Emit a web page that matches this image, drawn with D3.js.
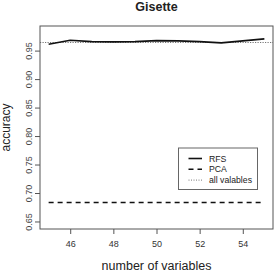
<!DOCTYPE html>
<html>
<head>
<meta charset="utf-8">
<script src="https://cdnjs.cloudflare.com/ajax/libs/d3/7.8.5/d3.min.js"></script>
<style>
  body { margin: 0; background: #fff; }
  svg { display: block; font-family: "Liberation Sans", Arial, sans-serif; }
</style>
</head>
<body>
<div id="chart"></div>
<script>
var numVars = [45, 46, 47, 48, 49, 50, 51, 52, 53, 54, 55];
var rfsAcc = [0.9611, 0.9682, 0.9656, 0.9655, 0.9656, 0.9676, 0.9672, 0.9656, 0.9636, 0.9671, 0.9706];
var pcaAcc = [0.6832, 0.6832, 0.6832, 0.6832, 0.6832, 0.6832, 0.6832, 0.6832, 0.6832, 0.6832, 0.6832];
var allVarsAcc = 0.9642;
var xTicks = [46, 48, 50, 52, 54];
var yTicks = [0.65, 0.70, 0.75, 0.80, 0.85, 0.90, 0.95];
var yLim = [0.65, 0.98];
var legendItems = [
  { label: "RFS", dash: null, width: 1.6, color: "#111" },
  { label: "PCA", dash: "5,4", width: 1.6, color: "#111" },
  { label: "all valables", dash: "1,1.5", width: 1, color: "#777" }
];

var width = 274, height = 272;
var box = { left: 40, right: 273, top: 26, bottom: 229 };

var svg = d3.select("#chart").append("svg")
  .attr("width", width)
  .attr("height", height);

// R style 4% padding on both axes
var xPad = (d3.max(numVars) - d3.min(numVars)) * 0.04;
var yPad = (yLim[1] - yLim[0]) * 0.04;

var x = d3.scaleLinear()
  .domain([d3.min(numVars) - xPad, d3.max(numVars) + xPad])
  .range([box.left, box.right]);

var y = d3.scaleLinear()
  .domain([yLim[0] - yPad, yLim[1] + yPad])
  .range([box.bottom, box.top]);

// all variables reference line (abline)
svg.append("line")
  .attr("x1", box.left).attr("x2", box.right)
  .attr("y1", y(allVarsAcc)).attr("y2", y(allVarsAcc))
  .style("stroke", "#777")
  .style("stroke-width", 1.1)
  .style("stroke-dasharray", "1.2,1.3");

var line = d3.line()
  .x(function(d, i) { return x(numVars[i]); })
  .y(function(d) { return y(d); });

svg.append("path")
  .datum(pcaAcc)
  .attr("d", line)
  .style("fill", "none")
  .style("stroke", "#111")
  .style("stroke-width", 1.6)
  .style("stroke-dasharray", "5,4");

svg.append("path")
  .datum(rfsAcc)
  .attr("d", line)
  .style("fill", "none")
  .style("stroke", "#111")
  .style("stroke-width", 1.7)
  .style("stroke-linejoin", "round");

// plot box
svg.append("rect")
  .attr("x", box.left)
  .attr("y", box.top)
  .attr("width", box.right - box.left)
  .attr("height", box.bottom - box.top)
  .style("fill", "none")
  .style("stroke", "#555")
  .style("stroke-width", 1);

// x axis
var xAxis = svg.append("g")
  .attr("transform", "translate(0," + box.bottom + ")")
  .call(d3.axisBottom(x).tickValues(xTicks).tickSize(5).tickPadding(7).tickFormat(d3.format("d")));
xAxis.select(".domain").remove();
xAxis.selectAll("line").style("stroke", "#555");
xAxis.selectAll("text")
  .style("font-size", "9px")
  .style("font-family", "Liberation Sans, Arial, sans-serif")
  .style("fill", "#333");

// y axis, labels rotated like R's default las=0
var yAxis = svg.append("g")
  .attr("transform", "translate(" + box.left + ",0)")
  .call(d3.axisLeft(y).tickValues(yTicks).tickSize(5).tickFormat(d3.format(".2f")));
yAxis.select(".domain").remove();
yAxis.selectAll("line").style("stroke", "#555");
yAxis.selectAll("text")
  .attr("x", null).attr("dy", null)
  .attr("text-anchor", "middle")
  .attr("transform", "translate(-8.5,0) rotate(-90)")
  .style("font-size", "9px")
  .style("font-family", "Liberation Sans, Arial, sans-serif")
  .style("fill", "#444");

// titles
svg.append("text")
  .attr("x", (box.left + box.right) / 2)
  .attr("y", 11)
  .attr("text-anchor", "middle")
  .style("font-size", "12.5px")
  .style("font-weight", "bold")
  .style("fill", "#222")
  .text("Gisette");

svg.append("text")
  .attr("x", (box.left + box.right) / 2)
  .attr("y", 270)
  .attr("text-anchor", "middle")
  .style("font-size", "12.5px")
  .style("fill", "#222")
  .text("number of variables");

svg.append("text")
  .attr("transform", "translate(10," + ((box.top + box.bottom) / 2) + ") rotate(-90)")
  .attr("text-anchor", "middle")
  .style("font-size", "12px")
  .style("fill", "#222")
  .text("accuracy");

// legend
var legend = svg.append("g").attr("transform", "translate(178.5,148)");
legend.append("rect")
  .attr("width", 79)
  .attr("height", 41.5)
  .style("fill", "#fff")
  .style("stroke", "#666")
  .style("stroke-width", 1);

var rows = legend.selectAll(".row")
  .data(legendItems)
  .enter().append("g")
  .attr("class", "row")
  .attr("transform", function(d, i) { return "translate(0," + (10.5 + i * 10.8) + ")"; });

rows.append("line")
  .attr("x1", 10).attr("x2", 23.5)
  .style("stroke", function(d) { return d.color; })
  .style("stroke-width", function(d) { return d.width; })
  .style("stroke-dasharray", function(d) { return d.dash; });

rows.append("text")
  .attr("x", 30.5)
  .attr("y", 3)
  .style("font-size", "8.7px")
  .style("fill", "#222")
  .text(function(d) { return d.label; });
</script>
</body>
</html>
